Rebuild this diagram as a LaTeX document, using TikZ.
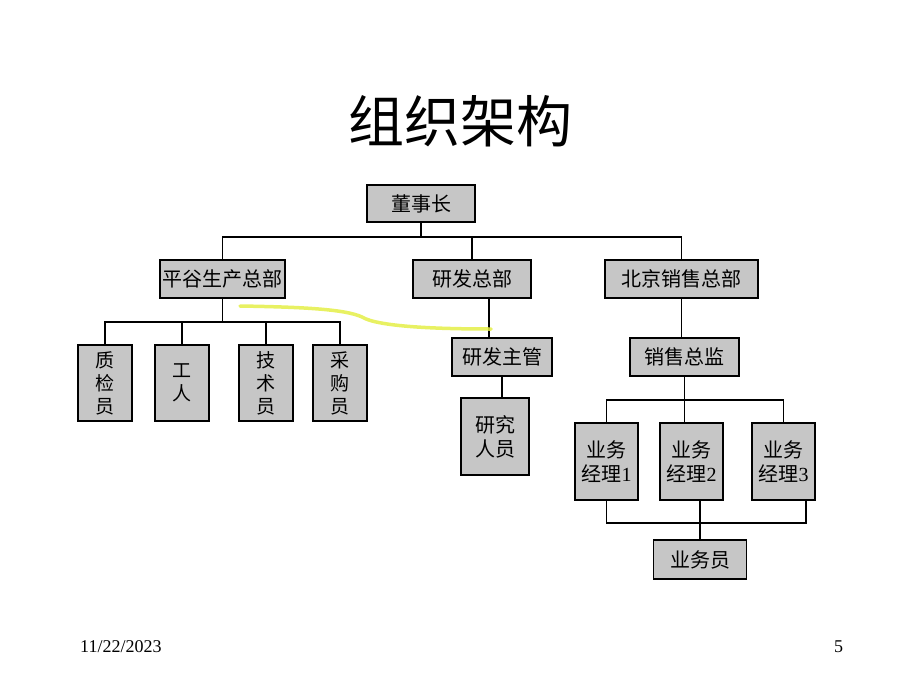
\documentclass[tikz,border=0pt]{standalone}
\usepackage{fontspec}
\setmainfont{Liberation Serif}
\newfontfamily\cjk{Noto Sans CJK SC}
\usetikzlibrary{positioning}

\definecolor{boxgray}{RGB}{198,198,198}
\definecolor{marker}{RGB}{228,238,70}

\tikzset{
  orgbox/.style={draw=black,line width=1.3pt,fill=boxgray,inner sep=0pt,align=center,
    font=\cjk\fontsize{20}{24}\selectfont},
  headbox/.style={orgbox,minimum height=38},
  tallbox/.style={orgbox,minimum width=54,minimum height=76,font=\cjk\fontsize{19}{23}\selectfont},
  mgrbox/.style={orgbox,minimum width=63,minimum height=77},
  link/.style={line width=1.1pt,draw=black}
}

\begin{document}
\begin{tikzpicture}[x=1pt,y=-1pt]
            \useasboundingbox (0,0) rectangle (920,690);
            \node[font=\cjk\fontsize{56}{60}\selectfont](title)at(460, 121){组织架构};
            % top level
            \node[headbox,minimum width=108,minimum height=37](chair)at(421, 203.5){董事长};
            \node[headbox,minimum width=125](prod)at(222.5, 279){平谷生产总部};
            \node[headbox,minimum width=118](rd)at(472, 279){研发总部};
            \node[headbox,minimum width=153](sales)at(681.5, 279){北京销售总部};
            % production
            \node[tallbox](qc)at(105, 383){质\\检\\员};
            \node[tallbox](worker)at(182, 383){工\\人};
            \node[tallbox](tech)at(266, 383){技\\术\\员};
            \node[tallbox](buy)at(340, 383){采\\购\\员};
            % research
            \node[headbox,minimum width=100](rdmgr)at(502, 357){研发主管};
            \node[orgbox,minimum width=68,minimum height=77](rdstaff)at(495, 436.5){研究\\人员};
            % sales
            \node[headbox,minimum width=109](salesdir)at(684.5, 357){销售总监};
            \node[mgrbox](m1)at(606.5, 461.5){业务\\经理{\rmfamily 1}};
            \node[mgrbox](m2)at(691.5, 461.5){业务\\经理{\rmfamily 2}};
            \node[mgrbox](m3)at(783.5, 461.5){业务\\经理{\rmfamily 3}};
            \node[headbox,minimum width=93,minimum height=39](agents)at(700, 559.5){业务员};
            % footer
            \node[anchor=base west,font=\fontsize{18}{20}\selectfont,inner sep=0pt](date)at(80, 652){11/22/2023};
            \node[anchor=base west,font=\fontsize{18}{20}\selectfont,inner sep=0pt](page)at(834, 652){5};
            % bus lines
            \coordinate(busA)at(0, 237);
            \coordinate(busB)at(0, 322);
            \coordinate(busC)at(0, 400);
            \coordinate(busD)at(0, 523);
            \coordinate(rdlink)at(489, 0);
            \coordinate(m3link)at(806, 0);
            \draw[link](chair.south) -- (chair.south |- busA);
            \draw[link](prod.north) |- (busA -| sales.north) -- (sales.north);
            \draw[link](rd.north) -- (rd.north |- busA);
            \draw[link](prod.south) -- (prod.south |- busB);
            \draw[link](qc.north) |- (busB -| buy.north) -- (buy.north);
            \draw[link](worker.north) -- (worker.north |- busB);
            \draw[link](tech.north) -- (tech.north |- busB);
            \draw[link](rd.south -| rdlink) -- (rdmgr.north -| rdlink);
            \draw[link](rdmgr.south) -- (rdmgr.south |- rdstaff.north);
            \draw[link](sales.south) -- (sales.south |- salesdir.north);
            \draw[link](salesdir.south) -- (salesdir.south |- m2.north);
            \draw[link](m1.north) |- (busC -| m3.north) -- (m3.north);
            \draw[link](m1.south) |- (busD -| m3link) -- (m3.south -| m3link);
            \draw[link](agents.north) -- (agents.north |- m2.south);
            % highlighter stroke
            \draw[marker,line width=3.5pt,line cap=round,opacity=0.85](240, 306) .. controls (300, 307) and (345, 309) .. (362, 317) .. controls (378, 327) and (440, 329) .. (491, 329);
        \end{tikzpicture}
\end{document}
